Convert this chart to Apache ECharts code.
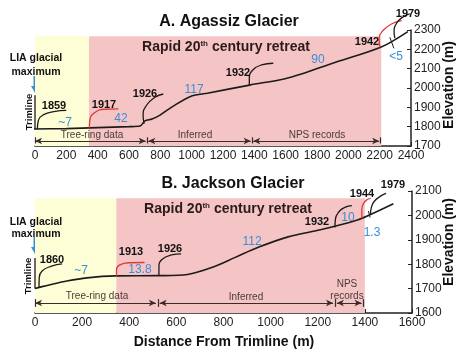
<!DOCTYPE html>
<html><head><meta charset="utf-8">
<script src="https://cdn.jsdelivr.net/npm/echarts@6/dist/echarts.min.js"></script>
<style>html,body{margin:0;padding:0;background:#fff}#c{width:464px;height:356px}</style>
</head><body><div id="c"></div>
<script>
// ---------- A. Agassiz Glacier (distance m, elevation m) ----------
const agassizProfile = [[-50,1786],[0,1788],[200,1790],[400,1795],[600,1800],[670,1803],[702,1830],[747,1840],[798,1860],[880,1905],[1000,1959],[1100,1973],[1370,2015],[1590,2047],[1700,2072],[1900,2128],[2210,2212],[2380,2292]];
const agassiz1859 = [[15,1788],[22,1834],[55,1862],[120,1878],[200,1884]];
const agassiz1917 = [[347,1794],[350,1834],[380,1872],[445,1890],[532,1892]];
const agassiz1926 = [[696,1815],[690,1860],[713,1912],[766,1952],[819,1969]];
const agassiz1932 = [[1368,2013],[1368,2050],[1390,2093],[1445,2119],[1521,2128]];
const agassiz1942 = [[2202,2210],[2196,2257],[2225,2300],[2275,2331],[2340,2348]];
const agassiz1979 = [[2297,2258],[2292,2291],[2308,2335],[2350,2368],[2392,2383]];
const agassizLeader = [[2265,2262],[2291,2205]];
const agassizTrimline = [[0,1788],[0,1962]];
const agassizZones = [0, 345, 2210];          // yellow start, pink start, pink end
const agassizZoneTop = 2268;
const agassizRecordBreaks = [0, 715, 1385, 2205];
const agassizRecordNames = ['Tree-ring data','Inferred','NPS records'];

// ---------- B. Jackson Glacier ----------
const jacksonProfile = [[0,1700],[30,1708],[64,1716],[135,1731],[220,1744],[340,1752],[525,1753],[647,1758],[750,1786],[850,1828],[950,1870],[1074,1912],[1216,1942],[1358,1978],[1415,2000],[1521,2048]];
const jackson1860 = [[17,1706],[18,1745],[30,1772],[70,1792],[115,1801]];
const jackson1913 = [[346,1752],[346,1778],[360,1797],[400,1806],[465,1807]];
const jackson1926 = [[526,1753],[526,1790],[540,1820],[580,1838],[620,1842]];
const jackson1932 = [[1273,1950],[1275,1985],[1290,2015],[1315,2033],[1345,2040]];
const jackson1944 = [[1387,1987],[1387,2025],[1395,2050],[1410,2065],[1425,2070]];
const jackson1979 = [[1424,2004],[1428,2035],[1440,2058],[1465,2078],[1490,2090]];
const jacksonLeader = [[1415,2018],[1422,1991]];
const jacksonTrimline = [[0,1700],[0,1825]];
const jacksonZones = [0, 345, 1400];
const jacksonZoneTop = 2070;
const jacksonRecordBreaks = [0, 521, 1273, 1394];
const jacksonRecordNames = ['Tree-ring data','Inferred','NPS\nrecords'];

// tick ranges
const agassizX = {min:0, max:2400, step:200};
const agassizY = {min:1700, max:2300, step:100};
const jacksonX = {min:0, max:1600, step:200};
const jacksonY = {min:1600, max:2100, step:100};

const FONT = '"Liberation Sans", Arial, sans-serif';
const DARK = '#1e1a1a', RED = '#e0383c', BLUE = '#3b8ed6';
const PINK = '#f5c5c5', YELLOW = '#fefed6';

function lineSeries(data, idx, color, width, smooth) {
  return {type:'line', xAxisIndex:idx, yAxisIndex:idx, data:data, showSymbol:false, symbol:'none',
    smooth: smooth, clip:false, silent:true, z:5,
    lineStyle:{color:color, width:width}};
}
function zoneArea(z, top, base) {
  return [[{coord:[z[0],base], itemStyle:{color:YELLOW}},{coord:[z[1],top]}],
          [{coord:[z[1],base], itemStyle:{color:PINK}},{coord:[z[2],top]}]];
}
function recordMarks(breaks, y, idx, barLo, barHi) {
  const arrows = [], bars = [];
  for (let i=0;i<breaks.length-1;i++) {
    const a = breaks[i] + (i===0?0:8), b = breaks[i+1] - 8;
    arrows.push([{coord:[a,y]},{coord:[b,y]}]);
  }
  breaks.forEach(function(b){ bars.push([{coord:[b,barLo]},{coord:[b,barHi]}]); });
  return [
    {type:'line', xAxisIndex:idx, yAxisIndex:idx, data:[], silent:true,
     markLine:{silent:true, symbol:['arrow','arrow'], symbolSize:[5,7], animation:false,
       label:{show:false}, lineStyle:{color:'#3a2a2a', width:1, type:'solid'}, data:arrows}},
    {type:'line', xAxisIndex:idx, yAxisIndex:idx, data:[], silent:true,
     markLine:{silent:true, symbol:['none','none'], animation:false,
       label:{show:false}, lineStyle:{color:'#3a2a2a', width:1.2, type:'solid'}, data:bars}}
  ];
}
function plain(v) { return String(v); }
function xAxisOpt(r, idx) {
  return {type:'value', gridIndex:idx, min:r.min, max:r.max, interval:r.step,
    axisLine:{show:true, onZero:false, lineStyle:{color:'#222', width:1.5}},
    axisTick:{show:true, inside:true, length:4, lineStyle:{color:'#222'}},
    axisLabel:{color:'#222', fontSize:12, fontFamily:FONT, margin:4, formatter:plain},
    splitLine:{show:false}};
}
function yAxisOpt(r, idx) {
  return {type:'value', gridIndex:idx, position:'right', min:r.min, max:r.max, interval:r.step,
    axisLine:{show:true, onZero:false, lineStyle:{color:'#222', width:1.5}},
    axisTick:{show:true, inside:true, length:4, lineStyle:{color:'#222'}},
    axisLabel:{color:'#222', fontSize:12, fontFamily:FONT, margin:3, formatter:plain},
    splitLine:{show:false}};
}
function txt(text, x, y, size, opts) {
  opts = opts || {};
  return {type:'text', x:x, y:y, rotation:opts.rot||0, z:50, silent:true,
    style:{text:text, font:(opts.bold?'bold ':'')+size+'px '+FONT, fill:opts.color||'#111',
      align:'center', verticalAlign:'middle', textAlign:'center', textVerticalAlign:'middle',
      lineHeight:opts.lh||size+1, rich:opts.rich}};
}
function blueArrow(x, y1, y2) {
  return {type:'group', z:50, silent:true, children:[
    {type:'line', shape:{x1:x,y1:y1,x2:x,y2:y2-6}, style:{stroke:BLUE, lineWidth:3}},
    {type:'polygon', shape:{points:[[x-4,y2-7],[x+4,y2-7],[x,y2]]}, style:{fill:BLUE}}]};
}

const series = [];
// Agassiz
const aMain = lineSeries(agassizProfile, 0, DARK, 1.6, 0.3);
aMain.markArea = {silent:true, animation:false, data: zoneArea(agassizZones, agassizZoneTop, agassizY.min)};
aMain.z = 4;
series.push(aMain);
series.push(lineSeries(agassiz1859,0,DARK,1.3,0.5));
series.push(lineSeries(agassiz1917,0,RED,1.3,0.5));
series.push(lineSeries(agassiz1926,0,DARK,1.3,0.5));
series.push(lineSeries(agassiz1932,0,DARK,1.3,0.5));
series.push(lineSeries(agassiz1942,0,RED,1.3,0.5));
series.push(lineSeries(agassiz1979,0,DARK,1.3,0.5));
series.push(lineSeries(agassizLeader,0,DARK,1,false));
series.push(lineSeries(agassizTrimline,0,DARK,1.3,false));
recordMarks(agassizRecordBreaks, 1726, 0, 1713, 1745).forEach(s=>series.push(s));
// Jackson
const jMain = lineSeries(jacksonProfile, 1, DARK, 1.6, 0.3);
jMain.markArea = {silent:true, animation:false, data: zoneArea(jacksonZones, jacksonZoneTop, jacksonY.min)};
jMain.z = 4;
series.push(jMain);
series.push(lineSeries(jackson1860,1,DARK,1.3,0.5));
series.push(lineSeries(jackson1913,1,RED,1.3,0.5));
series.push(lineSeries(jackson1926,1,DARK,1.3,0.5));
series.push(lineSeries(jackson1932,1,DARK,1.3,0.5));
series.push(lineSeries(jackson1944,1,RED,1.3,0.5));
series.push(lineSeries(jackson1979,1,DARK,1.3,0.5));
series.push(lineSeries(jacksonLeader,1,DARK,1,false));
series.push(lineSeries(jacksonTrimline,1,DARK,1.3,false));
recordMarks(jacksonRecordBreaks, 1641, 1, 1625, 1657).forEach(s=>series.push(s));

const supRich = {s:{font:'bold 8px '+FONT, fill:'#2a1a1a', verticalAlign:'top', padding:[0,0,6,0]}};

const graphic = [
  txt('A. Agassiz Glacier', 229, 22, 16, {bold:true}),
  txt('B. Jackson Glacier', 233, 184, 16, {bold:true}),
  txt('Distance From Trimline (m)', 224, 342, 14, {bold:true}),
  txt('Elevation (m)', 449, 85, 14, {bold:true, rot:Math.PI/2}),
  txt('Elevation (m)', 449, 242, 14, {bold:true, rot:Math.PI/2}),
  txt('Rapid 20{s|th} century retreat', 226, 47, 14, {bold:true, color:'#2a1a1a', rich:supRich}),
  txt('Rapid 20{s|th} century retreat', 228, 209, 14, {bold:true, color:'#2a1a1a', rich:supRich}),
  // LIA / trimline
  txt('LIA glacial\nmaximum', 36, 65, 10.5, {bold:true, lh:13.5}),
  txt('LIA glacial\nmaximum', 36, 228, 10.5, {bold:true, lh:12.5}),
  blueArrow(35, 76, 93), blueArrow(35, 237, 254),
  txt('Trimline', 29, 112, 9.5, {bold:true, rot:Math.PI/2}),
  txt('Trimline', 28.5, 276, 9.5, {bold:true, rot:Math.PI/2}),
  // Agassiz labels
  txt('1859', 54, 106, 11, {bold:true}),
  txt('1917', 104, 105, 11, {bold:true}),
  txt('1926', 145, 94, 11, {bold:true}),
  txt('1932', 238, 73, 11, {bold:true}),
  txt('1942', 367, 42, 11, {bold:true}),
  txt('1979', 408, 14, 11, {bold:true}),
  txt('~7', 65, 123, 12, {color:BLUE}),
  txt('42', 121, 119, 12, {color:BLUE}),
  txt('117', 194, 90, 12, {color:BLUE}),
  txt('90', 318, 60, 12, {color:BLUE}),
  txt('<5', 396, 57, 12, {color:BLUE}),
  // Jackson labels
  txt('1860', 52, 260, 11, {bold:true}),
  txt('1913', 131, 252, 11, {bold:true}),
  txt('1926', 170, 249, 11, {bold:true}),
  txt('1932', 317, 222, 11, {bold:true}),
  txt('1944', 362, 194, 11, {bold:true}),
  txt('1979', 393, 185, 11, {bold:true}),
  txt('~7', 81, 271, 12, {color:BLUE}),
  txt('13.8', 140, 270, 12, {color:BLUE}),
  txt('112', 252, 242, 12, {color:BLUE}),
  txt('10', 348, 218, 12, {color:BLUE}),
  txt('1.3', 372, 233, 12, {color:BLUE}),
  // record-type labels
  txt(agassizRecordNames[0], 92, 135, 10, {color:'#4a3a3a'}),
  txt(agassizRecordNames[1], 195, 135, 10, {color:'#4a3a3a'}),
  txt(agassizRecordNames[2], 317, 135, 10, {color:'#4a3a3a'}),
  txt(jacksonRecordNames[0], 97, 296, 10, {color:'#4a3a3a'}),
  txt(jacksonRecordNames[1], 246, 297, 10, {color:'#4a3a3a'}),
  txt(jacksonRecordNames[2], 347, 290, 10, {color:'#4a3a3a', lh:11.5})
];

const chart = echarts.init(document.getElementById('c'), null, {renderer:'canvas'});
chart.setOption({
  animation:false,
  backgroundColor:'#fff',
  grid:[{left:35, right:53, top:30, height:116},{left:35, right:52, top:191, height:122}],
  xAxis:[xAxisOpt(agassizX,0), xAxisOpt(jacksonX,1)],
  yAxis:[yAxisOpt(agassizY,0), yAxisOpt(jacksonY,1)],
  series:series,
  graphic:graphic
});
</script></body></html>
